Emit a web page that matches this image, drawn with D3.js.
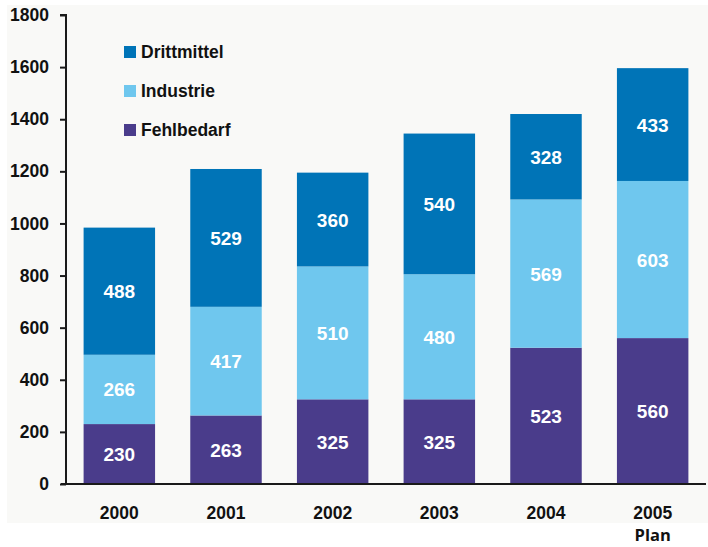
<!DOCTYPE html>
<html>
<head>
<meta charset="utf-8">
<script src="https://cdn.jsdelivr.net/npm/d3@7"></script>
<style>
  body { margin: 0; background: #fff; }
  text { font-family: 'Liberation Sans', Arial, sans-serif; font-weight: bold; }
</style>
</head>
<body>
<div id="chart"></div>
<script>
// data
let years = ['2000', '2001', '2002', '2003', '2004', '2005']
let fehlbedarf = [230, 263, 325, 325, 523, 560]
let industrie = [266, 417, 510, 480, 569, 603]
let drittmittel = [488, 529, 360, 540, 328, 433]
let seriesNames = ['Fehlbedarf', 'Industrie', 'Drittmittel']
let yTicks = [0, 200, 400, 600, 800, 1000, 1200, 1400, 1600, 1800]

let width = 708
let height = 547
let colors = { Fehlbedarf: '#4a3c8b', Industrie: '#6fc7ee', Drittmittel: '#0074b7' }

let rows = years.map((y, i) => ({
  year: y,
  Fehlbedarf: fehlbedarf[i],
  Industrie: industrie[i],
  Drittmittel: drittmittel[i]
}))

let stacked = d3.stack().keys(seriesNames)(rows)

/* Scales */
let xScale = d3.scaleBand()
  .domain(years)
  .range([66, 706])
  .paddingInner(0.33)
  .paddingOuter(0.165)

let yScale = d3.scaleLinear()
  .domain([0, 1800])
  .range([484, 15])

let svg = d3.select('#chart')
  .append('svg')
  .attr('width', width)
  .attr('height', height)

// off-white panel
svg.append('rect')
  .attr('x', 7)
  .attr('y', 5)
  .attr('width', width - 7)
  .attr('height', 518)
  .attr('fill', '#f9f9f7')

/* Bars */
let layers = svg.append('g')
  .selectAll('g')
  .data(stacked)
  .enter()
  .append('g')
  .attr('fill', d => colors[d.key])

layers.selectAll('rect')
  .data(d => d)
  .enter()
  .append('rect')
  .attr('x', d => xScale(d.data.year))
  .attr('y', d => yScale(d[1]))
  .attr('width', xScale.bandwidth())
  .attr('height', d => yScale(d[0]) - yScale(d[1]))

layers.selectAll('text')
  .data(d => d)
  .enter()
  .append('text')
  .attr('x', d => xScale(d.data.year) + xScale.bandwidth() / 2)
  .attr('y', d => (yScale(d[0]) + yScale(d[1])) / 2 + 7)
  .attr('text-anchor', 'middle')
  .attr('fill', '#fff')
  .style('font-size', '19px')
  .text(d => d[1] - d[0])

/* Axes */
let yAxis = d3.axisLeft(yScale)
  .tickValues(yTicks)
  .tickFormat(d3.format('d'))
  .tickSize(6)
  .tickPadding(11)
let gy = svg.append('g')
  .attr('transform', 'translate(66,0)')
  .call(yAxis)
gy.select('.domain').attr('stroke', '#1a1a1a').attr('stroke-width', 2).attr('d', 'M-6,15H0V484')
gy.selectAll('.tick line').attr('stroke', '#1a1a1a').attr('stroke-width', 2)
gy.selectAll('.tick text')
  .attr('fill', '#111')
  .style('font-size', '17.5px')
  .style('font-family', "'Liberation Sans', Arial, sans-serif")
  .style('font-weight', 'bold')

let xAxis = d3.axisBottom(xScale).tickSize(0).tickPadding(23)
let gx = svg.append('g')
  .attr('transform', 'translate(0,484)')
  .call(xAxis)
gx.select('.domain').attr('stroke', '#1a1a1a').attr('stroke-width', 2).attr('d', 'M61,0H706')
gx.selectAll('.tick text')
  .attr('fill', '#111')
  .style('font-size', '17.5px')
  .style('font-family', "'Liberation Sans', Arial, sans-serif")
  .style('font-weight', 'bold')

svg.append('text')
  .attr('x', xScale('2005') + xScale.bandwidth() / 2)
  .attr('y', 541)
  .attr('text-anchor', 'middle')
  .attr('fill', '#111')
  .style('font-family', "'Open Sans', Lato, sans-serif")
  .style('font-weight', '700')
  .style('font-size', '16.5px')
  .text('Plan')

/* Legend */
let legendOrder = ['Drittmittel', 'Industrie', 'Fehlbedarf']
let legend = svg.append('g')
  .selectAll('g')
  .data(legendOrder)
  .enter()
  .append('g')
  .attr('transform', (d, i) => `translate(124, ${46 + i * 39})`)

legend.append('rect')
  .attr('width', 12)
  .attr('height', 12)
  .attr('fill', d => colors[d])

legend.append('text')
  .attr('x', 17)
  .attr('y', 12)
  .attr('fill', '#111')
  .style('font-size', '17.5px')
  .text(d => d)
</script>
</body>
</html>
